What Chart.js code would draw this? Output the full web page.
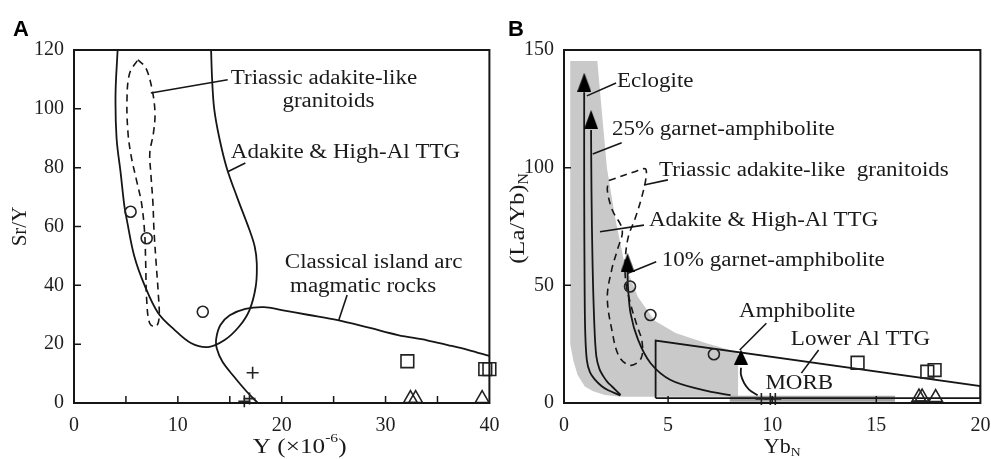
<!DOCTYPE html>
<html>
<head>
<meta charset="utf-8">
<script src="https://cdn.jsdelivr.net/npm/chart.js@4.4.1/dist/chart.umd.min.js"></script>
<style>
  html, body { margin: 0; padding: 0; background: #fff; }
  #wrap { position: relative; width: 991px; height: 459px; overflow: hidden; }
  canvas { position: absolute; top: 0; }
  #chart-a { left: 0; }
  #chart-b { left: 500px; }
</style>
</head>
<body>
<div id="wrap">
  <canvas id="chart-a" width="500" height="459"></canvas>
  <canvas id="chart-b" width="491" height="459"></canvas>
</div>
<script>
// ---------- panel A : Sr/Y vs Y ----------
const adakiteA = [[4.2,120],[4.0,105],[4.1,90],[4.5,78],[4.85,67],[5.1,62],[5.8,50],[6.8,40],[8.1,30.6],[9.7,24.8],
  [11.25,20.4],[12.9,19],[14.5,21.4],[15.9,26],[16.9,31.6],[17.5,39.6],[17.6,47.5],[17.4,53.2],[16.9,58.8],
  [15.7,70],[14.7,80],[14.0,90],[13.5,100],[13.3,110],[13.2,120]];
const triassicA = [[6.15,116.7],[6.9,114],[7.5,107],[7.8,98.6],[7.65,91.8],[7.3,85],[7.4,78],[7.6,68],[7.7,58.8],
  [7.9,48],[8.1,38],[8.2,29],[7.9,26],[7.3,27],[7.0,35],[6.9,48],[6.8,58],[6.5,68],[6.0,76],[5.5,84],[5.2,91.8],
  [5.1,103],[5.35,112],[6.15,116.7]];
const islandArcA = [[17.7,0],[16.6,4],[15.4,9],[14.3,14],[13.75,18.5],[13.7,22],[14.1,26.5],[15.0,29.8],[16.5,32],
  [18.3,32.6],[20,31.6],[22.5,30],[25.4,28.2],[28.5,25.5],[31.2,23.1],[34,21.3],[36,19.7],[38,18],[40,16]];
const leadersA = [
  [[7.4,105.4],[14.8,109.9]],
  [[14.8,78.6],[16.5,81.6]],
  [[25.5,28.2],[26.3,36.7]]
];
const circlesA = [[5.45,65],[7.0,56],[12.4,31]];
const squaresA = [[32.1,14.2],[39.6,11.5],[40,11.5]];
const trianglesA = [[32.4,1.5],[32.9,1.5],[39.3,1.5]];
const plusesA = [[17.2,10.3],[16.4,0.6],[16.9,1.5]];
const xTicksA = [0, 10, 20, 30, 40];
const yTicksA = [0, 20, 40, 60, 80, 100, 120];

// ---------- panel B : (La/Yb)N vs YbN ----------
const grayFieldB = [[0.3,145.3],[1.6,145.3],[2.06,100],[2.45,79],[2.9,59.5],[3.55,45],[4.36,35],[5.36,29.7],
  [6.8,25.5],[7.96,22.5],[8.36,21.2],[8.36,2.7],[2.7,2.7],[1.97,3.4],[1.4,5],[1.0,7],[0.65,12],[0.45,18],
  [0.3,25],[0.3,145.3]];
const morbB = [[7.96,1.8],[15.9,1.8]];
const lowerAlB = [[4.4,2.1],[4.4,26.5],[20,7.2],[20,2.1],[4.4,2.1]];
const eclogiteB = [[0.97,132],[0.97,90],[0.99,50],[1.02,30],[1.1,18],[1.25,13],[1.5,9.8],[1.8,7.2],[2.1,5.5],[2.7,3.2]];
const garnet25B = [[1.3,116],[1.32,90],[1.37,60],[1.45,35],[1.55,20],[1.7,14.5],[1.9,11.2],[2.1,8.8],[2.32,6.9],[2.72,3.4]];
const garnet10B = [[3.05,56],[3.07,50],[3.2,38],[3.56,26.8],[4.16,16.9],[5.12,9.8],[6.7,5.5],[8.0,3.3]];
const amphiboliteB = [[8.5,15],[8.5,12],[8.65,8.5],[8.9,5.6],[9.3,3.3]];
const triassicB = [[2.16,94.5],[3.4,98.3],[3.9,99.5],[3.95,96.5],[3.75,88],[3.4,78],[3.1,71],[2.95,62],[2.96,52],
  [3.2,42],[3.5,33],[3.75,26],[3.7,19],[3.2,16],[2.65,19.7],[2.3,31],[2.08,45],[2.3,57],[2.56,65],[2.8,73.5],
  [2.32,82],[2.08,90.5],[2.16,94.5]];
const arrowHeadsB = [[0.97,136.3],[1.3,120.5],[3.05,59.7],[8.5,19.5]];
const leadersB = [
  [[1.1,130.5],[2.5,136]],
  [[1.38,105.8],[2.77,110.6]],
  [[3.84,92.6],[4.99,94.8]],
  [[1.73,72.8],[3.84,75.6]],
  [[3.07,55.1],[4.43,60]],
  [[8.44,22.5],[9.72,33.9]],
  [[11.4,12.7],[12.23,22.5]]
];
const circlesB = [[3.17,49.5],[4.15,37.4],[7.2,20.7]];
const squaresB = [[14.1,17.1],[17.45,13.3],[17.8,14]];
const trianglesB = [[17.05,2.5],[17.2,2.5],[17.85,2.3]];
const plusesB = [[9.48,1.7],[9.91,1.7],[10.15,1.7]];
const xTicksB = [0, 5, 10, 15, 20];
const yTicksB = [0, 50, 100, 150];

// text placed on the plots (data coordinates)
const labelsA = [
  {text: 'Triassic adakite-like', x: 15.1, y: 110.2},
  {text: 'granitoids', x: 24.5, y: 102.4, align: 'center'},
  {text: 'Adakite & High-Al TTG', x: 15.1, y: 85},
  {text: 'Classical island arc', x: 20.3, y: 47.6},
  {text: 'magmatic rocks', x: 20.8, y: 39.5}
];
const labelsB = [
  {text: 'Eclogite', x: 2.54, y: 136.4},
  {text: '25% garnet-amphibolite', x: 2.3, y: 116},
  {text: 'Triassic adakite-like  granitoids', x: 4.56, y: 98.6},
  {text: 'Adakite & High-Al TTG', x: 4.08, y: 77.3},
  {text: '10% garnet-amphibolite', x: 4.7, y: 60.3},
  {text: 'Amphibolite', x: 11.2, y: 38.7, align: 'center'},
  {text: 'Lower Al TTG', x: 14.24, y: 26.8, align: 'center'},
  {text: 'MORB', x: 11.3, y: 8.1, align: 'center'}
];

const serif = '"Liberation Serif", "Times New Roman", serif';
const INK = '#161616';
Chart.defaults.font.family = serif;
Chart.defaults.color = '#1e1e1e';

const pts = (arr) => arr.map(([x, y]) => ({x, y}));
const curve = (arr, extra = {}) => ({
  data: pts(arr), showLine: true, pointRadius: 0, borderColor: INK, borderWidth: 1.8,
  tension: 0.35, fill: false, ...extra
});
const marks = (arr, style, r) => ({
  data: pts(arr), showLine: false, pointStyle: style, pointRadius: r, borderColor: '#222',
  backgroundColor: 'rgba(0,0,0,0)', pointBorderWidth: 1.6, clip: false
});

function arrowHead(w, h) {
  const c = document.createElement('canvas');
  c.width = w; c.height = h;
  const g = c.getContext('2d');
  g.fillStyle = '#000';
  g.beginPath(); g.moveTo(w / 2, 0); g.lineTo(w, h); g.lineTo(0, h); g.closePath(); g.fill();
  return c;
}

// text with a raised / lowered part (x10^-6, subscript N); parts: [text, shift]
function drawRich(ctx, parts, cx, cy, rot, size, sx) {
  const big = size + 'px ' + serif;
  const small = Math.round(size * 0.62) + 'px ' + serif;
  ctx.save();
  ctx.translate(cx, cy);
  ctx.rotate(rot);
  ctx.scale(sx, 1);
  ctx.fillStyle = '#1a1a1a';
  ctx.textAlign = 'left';
  ctx.textBaseline = 'middle';
  const widths = parts.map(([t, sh]) => {
    ctx.font = sh ? small : big;
    return ctx.measureText(t).width;
  });
  const total = widths.reduce((s, v) => s + v, 0);
  let xx = -total / 2;
  parts.forEach(([t, sh], i) => {
    ctx.font = sh ? small : big;
    ctx.fillText(t, xx, sh ? sh * size : 0);
    xx += widths[i];
  });
  ctx.restore();
}

function makeDecor(cfg) {
  return {
    id: 'decor',
    afterDatasetsDraw(chart) {
      const {ctx, chartArea: a, scales: {x, y}} = chart;
      ctx.save();
      ctx.strokeStyle = INK;
      ctx.lineWidth = 2;
      ctx.strokeRect(a.left, a.top, a.right - a.left, a.bottom - a.top);
      // inward ticks
      ctx.lineWidth = 1.5;
      ctx.beginPath();
      x.ticks.forEach(t => {
        if (t.value > x.min && t.value < x.max) {
          const px = x.getPixelForValue(t.value);
          ctx.moveTo(px, a.bottom); ctx.lineTo(px, a.bottom - 7);
        }
      });
      y.ticks.forEach(t => {
        if (t.value > y.min && t.value < y.max) {
          const py = y.getPixelForValue(t.value);
          ctx.moveTo(a.left, py); ctx.lineTo(a.left + 7, py);
        }
      });
      ctx.stroke();
      // labels
      ctx.fillStyle = '#1a1a1a';
      ctx.font = `20px ${serif}`;
      ctx.textBaseline = 'middle';
      cfg.labels.forEach(l => {
        ctx.save();
        ctx.translate(x.getPixelForValue(l.x), y.getPixelForValue(l.y));
        ctx.scale(1.15, 1);
        ctx.textAlign = l.align || 'left';
        ctx.fillText(l.text, 0, 0);
        ctx.restore();
      });
      // axis titles
      const cx = (a.left + a.right) / 2, cy = (a.top + a.bottom) / 2;
      drawRich(ctx, cfg.xTitle, cx + cfg.xTitleDx, 447, 0, 21, cfg.xTitleSx);
      drawRich(ctx, cfg.yTitle, cfg.yTitleX, cy + cfg.yTitleDy, -Math.PI / 2, cfg.yTitleSize, cfg.yTitleSx);
      // panel letter
      ctx.font = `bold 22px "Liberation Sans", Arial, sans-serif`;
      ctx.textAlign = 'center';
      ctx.textBaseline = 'middle';
      ctx.fillStyle = '#000';
      ctx.fillText(cfg.letter, cfg.letterX, 30);
      ctx.restore();
    }
  };
}

function axes(xMin, xMax, xStep, xLabels, yMin, yMax, yStep, yLabels, yWidth) {
  const tickFont = {size: 20, family: serif};
  return {
    x: {
      type: 'linear', min: xMin, max: xMax,
      grid: {display: false, drawTicks: false}, border: {display: false},
      ticks: {stepSize: xStep, autoSkip: false, maxRotation: 0, padding: 11, font: tickFont,
        color: '#1e1e1e', callback: v => xLabels.includes(v) ? String(v) : ''},
      afterFit: s => { s.height = 56; s.paddingLeft = 0; s.paddingRight = 0; }
    },
    y: {
      type: 'linear', min: yMin, max: yMax,
      grid: {display: false, drawTicks: false}, border: {display: false},
      ticks: {stepSize: yStep, autoSkip: false, padding: 10, font: tickFont, color: '#1e1e1e',
        callback: v => yLabels.includes(v) ? String(v) : ''},
      afterFit: s => { s.width = yWidth; s.paddingTop = 0; s.paddingBottom = 0; }
    }
  };
}

const dashed = {borderDash: [7, 5], borderWidth: 1.6};

new Chart(document.getElementById('chart-a'), {
  type: 'scatter',
  data: {
    datasets: [
      marks(circlesA, 'circle', 5.5),
      marks(squaresA, 'rect', 9),
      marks(trianglesA, 'triangle', 8),
      marks(plusesA, 'cross', 6),
      ...leadersA.map(l => curve(l, {tension: 0, borderWidth: 1.6})),
      curve(adakiteA),
      curve(triassicA, dashed),
      curve(islandArcA)
    ]
  },
  options: {
    responsive: false, animation: false, devicePixelRatio: 1,
    layout: {padding: {top: 50, right: 8, left: 0, bottom: 0}},
    scales: axes(0, 40, 5, xTicksA, 0, 120, 20, yTicksA, 74),
    plugins: {legend: {display: false}, tooltip: {enabled: false}}
  },
  plugins: [makeDecor({
    labels: labelsA,
    xTitle: [['Y (×10', 0], ['-6', -0.42], [')', 0]], xTitleDx: 18, xTitleSx: 1.2,
    yTitle: [['Sr/Y', 0]], yTitleX: 21, yTitleDy: 0, yTitleSize: 20, yTitleSx: 1.05,
    letter: 'A', letterX: 21
  })]
});

const headBig = arrowHead(14, 19);
const headSmall = arrowHead(14, 15);

new Chart(document.getElementById('chart-b'), {
  type: 'scatter',
  data: {
    datasets: [
      marks(circlesB, 'circle', 5.5),
      marks(squaresB, 'rect', 9),
      marks(trianglesB, 'triangle', 8),
      marks(plusesB, 'cross', 6),
      {data: pts(arrowHeadsB), showLine: false, pointRadius: 5, clip: false,
        pointStyle: [headBig, headBig, headBig, headSmall]},
      ...leadersB.map(l => curve(l, {tension: 0, borderWidth: 1.6})),
      curve(eclogiteB),
      curve(garnet25B),
      curve(garnet10B),
      curve(amphiboliteB),
      curve(triassicB, dashed),
      curve(lowerAlB, {tension: 0}),
      curve(morbB, {tension: 0, borderWidth: 6, borderColor: '#a3a3a3', borderCapStyle: 'butt'}),
      curve(grayFieldB, {tension: 0, borderWidth: 0, borderColor: 'rgba(0,0,0,0)',
        backgroundColor: '#c9c9c9', fill: 'shape', order: 10})
    ]
  },
  options: {
    responsive: false, animation: false, devicePixelRatio: 1,
    layout: {padding: {top: 50, right: 10, left: 0, bottom: 0}},
    scales: axes(0, 20, 5, xTicksB, 0, 150, 50, yTicksB, 64),
    plugins: {legend: {display: false}, tooltip: {enabled: false}}
  },
  plugins: [makeDecor({
    labels: labelsB,
    xTitle: [['Yb', 0], ['N', 0.28]], xTitleDx: 10, xTitleSx: 1.05,
    yTitle: [['(La/Yb)', 0], ['N', 0.28]], yTitleX: 18, yTitleDy: -8, yTitleSize: 22, yTitleSx: 1.12,
    letter: 'B', letterX: 16
  })]
});
</script>
</body>
</html>
